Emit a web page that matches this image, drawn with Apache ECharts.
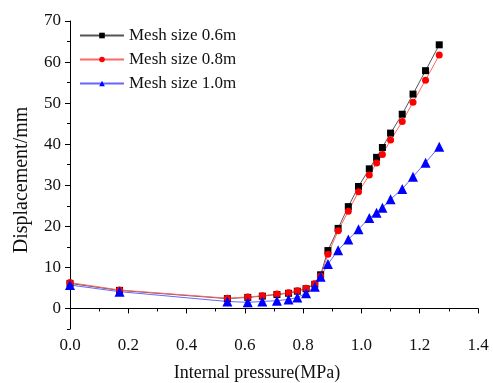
<!DOCTYPE html>
<html>
<head>
<meta charset="utf-8">
<script src="https://cdn.jsdelivr.net/npm/echarts@6/dist/echarts.min.js"></script>
<style>html,body{margin:0;padding:0;background:#fff}#c{width:493px;height:383px}</style>
</head>
<body>
<div id="c"></div>
<script>
var pressure = [0, 0.17, 0.54, 0.61, 0.66, 0.71, 0.75, 0.78, 0.81, 0.84, 0.86, 0.885, 0.92, 0.955, 0.99, 1.027, 1.052, 1.072, 1.10, 1.14, 1.177, 1.22, 1.267];
var mesh06 = [6.1, 4.4, 2.4, 2.7, 3.0, 3.4, 3.7, 4.2, 4.8, 5.9, 8.2, 14.1, 19.5, 24.8, 29.7, 34.0, 36.8, 39.2, 42.7, 47.3, 52.2, 57.9, 64.2];
var mesh08 = [6.3, 4.5, 2.5, 2.8, 3.1, 3.5, 3.8, 4.3, 4.9, 6.0, 7.9, 13.2, 18.9, 23.7, 28.4, 32.5, 35.4, 37.5, 41.0, 45.5, 50.2, 55.6, 61.7];
var mesh10 = [5.7, 4.1, 1.7, 1.5, 1.7, 1.9, 2.2, 2.7, 3.7, 5.3, 7.7, 10.8, 14.2, 16.8, 19.3, 22.0, 23.3, 24.5, 26.6, 29.1, 32.1, 35.5, 39.4];
var seriesNames = ['Mesh size 0.6m', 'Mesh size 0.8m', 'Mesh size 1.0m'];
var xTicks = [0, 0.2, 0.4, 0.6, 0.8, 1.0, 1.2, 1.4];
var yTicks = [0, 10, 20, 30, 40, 50, 60, 70];

function pairs(xs, ys) { return xs.map(function (x, i) { return [x, ys[i]]; }); }

var font = "'Liberation Serif', 'Times New Roman', serif";
var chart = echarts.init(document.getElementById('c'), null, {renderer: 'canvas'});
chart.setOption({
  animation: false,
  backgroundColor: '#fff',
  grid: {left: 70, right: 15, top: 21, bottom: 54, containLabel: false, outerBoundsMode: 'none'},
  legend: {
    orient: 'vertical', left: 74, top: 22, itemWidth: 44, itemHeight: 7, itemGap: 7,
    textStyle: {fontFamily: font, fontSize: 17, color: '#111', lineHeight: 17},
    data: seriesNames
  },
  xAxis: {
    type: 'value', min: 0, max: 1.4, interval: 0.2,
    name: 'Internal pressure(MPa)', nameLocation: 'middle', nameGap: 35,
    nameTextStyle: {fontFamily: font, fontSize: 18, color: '#111', padding: [0, 34, 0, 0]},
    axisLine: {show: true, lineStyle: {color: '#000', width: 1}},
    axisTick: {show: true, length: 5, lineStyle: {color: '#000'}},
    minorTick: {show: true, splitNumber: 2, length: 3, lineStyle: {color: '#000'}},
    splitLine: {show: false},
    axisLabel: {fontFamily: font, fontSize: 17, color: '#111', margin: 8,
      formatter: function (v) { return v.toFixed(1); }}
  },
  yAxis: [{
    type: 'value', min: -5, max: 70, interval: 5,
    name: 'Displacement/mm', nameLocation: 'middle', nameGap: 38,
    nameTextStyle: {fontFamily: font, fontSize: 20, color: '#111', padding: [0, 10, 0, 0]},
    axisLine: {show: true, lineStyle: {color: '#000', width: 1}},
    axisTick: {show: true, length: 5, customValues: yTicks, lineStyle: {color: '#000'}},
    splitLine: {show: false},
    axisLabel: {fontFamily: font, fontSize: 17, color: '#111', margin: 9, customValues: yTicks}
  }, {
    type: 'value', min: -5, max: 70, interval: 5, position: 'left',
    axisLine: {show: false},
    axisTick: {show: true, length: 3, lineStyle: {color: '#000'}},
    splitLine: {show: false},
    axisLabel: {show: false}
  }],
  series: [{
    name: seriesNames[0], type: 'line', data: pairs(pressure, mesh06),
    symbol: 'rect', symbolSize: 7, showAllSymbol: true,
    itemStyle: {color: '#000'},
    lineStyle: {color: '#555', width: 1}
  }, {
    name: seriesNames[1], type: 'line', data: pairs(pressure, mesh08),
    symbol: 'circle', symbolSize: 7, showAllSymbol: true,
    itemStyle: {color: '#ff0000'},
    lineStyle: {color: '#ff6666', width: 1}
  }, {
    name: seriesNames[2], type: 'line', data: pairs(pressure, mesh10),
    symbol: 'triangle', symbolSize: 10, showAllSymbol: true,
    itemStyle: {color: '#0000ff'},
    lineStyle: {color: '#6666ff', width: 1}
  }]
});
</script>
</body>
</html>
